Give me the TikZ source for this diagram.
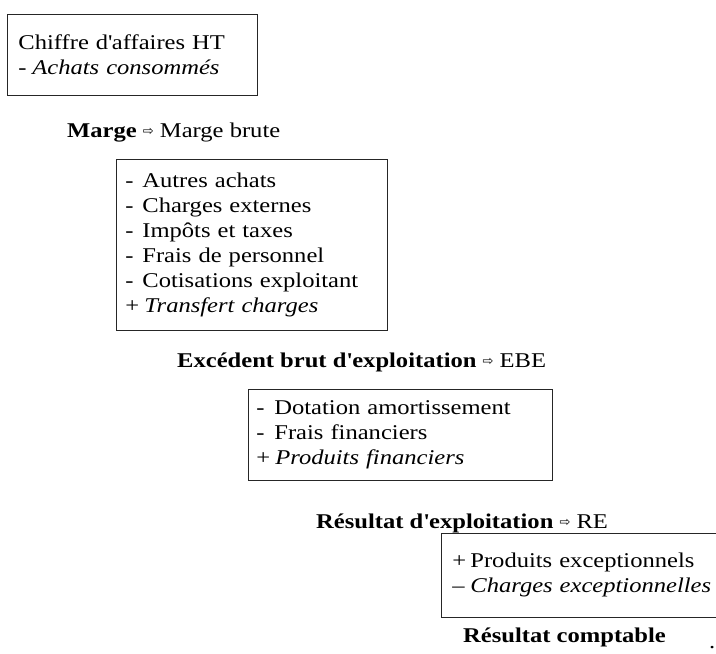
\documentclass[tikz,border=0pt]{standalone}
\usepackage{fontspec}
\setmainfont{Liberation Serif}[FakeStretch=1.17]
\newfontfamily\arrowfont{DejaVu Sans}
\newcommand{\arr}{{\arrowfont\fontsize{13pt}{13pt}\selectfont\raisebox{1.5pt}{⇨}}}
\newcommand{\ap}{\textquotesingle}
\newcommand{\sgn}[2][17pt]{\makebox[#1][l]{#2}}
\tikzset{
  txt/.style={font=\fontsize{21pt}{25pt}\selectfont, inner sep=0pt},
  heading/.style={txt, anchor=base west},
  calcbox/.style={txt, draw=black!85, line width=0.8pt, anchor=north west, align=left, inner ysep=0pt},
}
\begin{document}
\begin{tikzpicture}[x=1pt,y=-1pt]
\useasboundingbox (0,0) rectangle (716,654);
% box 1
\node[calcbox, inner xsep=11pt, text width=228pt, minimum width=250pt, minimum height=81pt] (b1) at (7,14)
  {\mbox{Chiffre d\ap affaires HT}\\ \mbox{\sgn[14pt]{-}\textit{Achats consommés}}};
\node[heading] (h1) at (67,137) {\textbf{Marge} \arr{} Marge brute};
% box 2
\node[calcbox, inner xsep=9pt, text width=253pt, minimum width=271pt, minimum height=171pt] (b2) at (116,159)
  {\sgn{-}Autres achats\\ \sgn{-}Charges externes\\ \sgn{-}Impôts et taxes\\ \sgn{-}Frais de personnel\\ \mbox{\sgn{-}Cotisations exploitant}\\ \sgn[19pt]{+}\textit{Transfert charges}};
\node[heading] (h2) at (177,367) {\textbf{Excédent brut d\ap exploitation} \arr{} EBE};
% box 3
\node[calcbox, inner xsep=8pt, text width=288pt, minimum width=304pt, minimum height=91pt] (b3) at (248,389)
  {\mbox{\sgn[18pt]{-}Dotation amortissement}\\ \sgn[18pt]{-}Frais financiers\\ \sgn[19pt]{+}\textit{Produits financiers}};
\node[heading] (h3) at (316,528) {\textbf{Résultat d\ap exploitation} \arr{} RE};
% box 4
\node[calcbox, inner xsep=11pt, text width=253pt, minimum width=275pt, minimum height=84pt] (b4) at (441,533)
  {\mbox{\sgn[18pt]{+}Produits exceptionnels}\\ \mbox{\sgn[18pt]{--}\textit{Charges exceptionnelles}}};
\node[heading] (h4) at (463,642) {\textbf{Résultat comptable}};
\node[heading] (dot) at (709,648) {.};
\end{tikzpicture}
\end{document}
